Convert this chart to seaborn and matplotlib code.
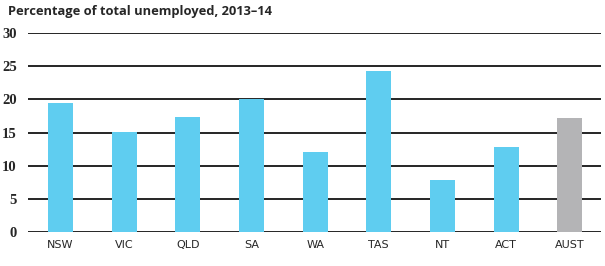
import matplotlib
matplotlib.use("Agg")
import matplotlib.pyplot as plt
import seaborn as sns
import pandas as pd

categories = ["NSW", "VIC", "QLD", "SA", "WA", "TAS", "NT", "ACT", "AUST"]
values = [19.4, 15.1, 17.3, 20.0, 12.1, 24.3, 7.9, 12.8, 17.2]
colors = ["#5FCDF0"] * 8 + ["#B4B4B6"]
yticks = [0, 5, 10, 15, 20, 25, 30]
title = "Percentage of total unemployed, 2013\u201314"

sns.set_style("white")
df = pd.DataFrame({"cat": categories, "val": values})

fig = plt.figure(figsize=(6.05, 2.66), dpi=100)
ax = fig.add_axes([28/605, 1-232/266, 573/605, (232-33)/266])
sns.barplot(data=df, x="cat", y="val", hue="cat", palette=colors, legend=False,
            width=0.39, ax=ax, saturation=1, linewidth=0, zorder=3)
ax.set_ylim(0, 30)
ax.set_xlim(-0.51, 8.49)
ax.set_yticks(yticks)
ax.set_yticklabels([str(t) for t in yticks], fontfamily="Liberation Serif",
                   fontweight="bold", fontsize=10.5)
ax.tick_params(axis="both", length=0, pad=8)
ax.tick_params(axis="x", pad=6)
for lbl in ax.get_xticklabels():
    lbl.set_fontfamily("DejaVu Sans")
    lbl.set_fontsize(8)
ax.set_xlabel("")
ax.set_ylabel("")
for s in ax.spines.values():
    s.set_visible(False)
ax.yaxis.grid(True, color="black", linewidth=1.2, zorder=0)
ax.set_axisbelow(True)
fig.text(8/605, 1-12/266, title, fontsize=9.3, fontweight="bold",
         fontfamily="Open Sans", va="center", ha="left")
fig.savefig("out.png", dpi=100)
